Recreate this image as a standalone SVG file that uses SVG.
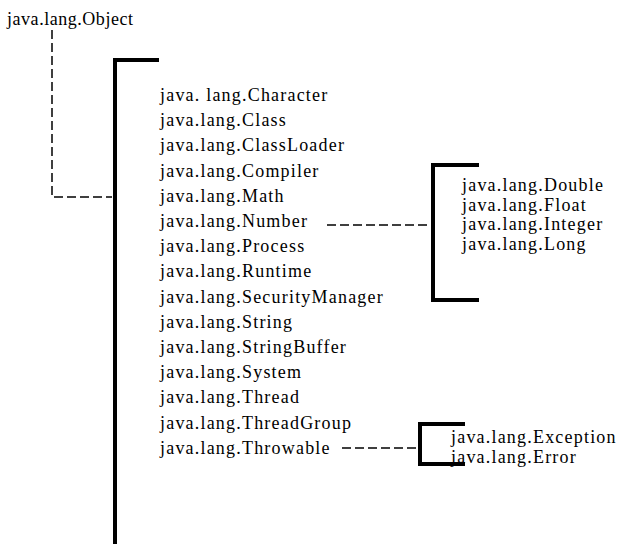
<svg xmlns="http://www.w3.org/2000/svg" width="622" height="544" viewBox="0 0 622 544">
<style>
text{font-family:"Liberation Serif","Times New Roman",serif;font-size:18px;fill:#000;letter-spacing:1.2px}
.br{fill:none;stroke:#000;stroke-width:4;stroke-linejoin:miter;stroke-linecap:square}
.dash{fill:none;stroke:#000;stroke-width:1.5;stroke-dasharray:9 4}
</style>
<rect width="622" height="544" fill="#fff"/>
<g id="connectors">
<path class="dash" d="M52,30 V197 H112"/>
<path class="dash" d="M327,225 H431"/>
<path class="dash" d="M342,448 H418"/>
</g>
<g id="object">
<text x="7" y="25" textLength="126" lengthAdjust="spacing" style="letter-spacing:0">java.lang.Object</text>
</g>
<g id="lang-classes">
<path class="br" d="M157,60 H115 V546"/>
<text x="160" y="101">java. lang.Character</text>
<text x="160" y="126.2">java.lang.Class</text>
<text x="160" y="151.4">java.lang.ClassLoader</text>
<text x="160" y="176.6">java.lang.Compiler</text>
<text x="160" y="201.8">java.lang.Math</text>
<text x="160" y="227">java.lang.Number</text>
<text x="160" y="252.2">java.lang.Process</text>
<text x="160" y="277.4">java.lang.Runtime</text>
<text x="160" y="302.6">java.lang.SecurityManager</text>
<text x="160" y="327.8">java.lang.String</text>
<text x="160" y="353">java.lang.StringBuffer</text>
<text x="160" y="378.2">java.lang.System</text>
<text x="160" y="403.4">java.lang.Thread</text>
<text x="160" y="428.6">java.lang.ThreadGroup</text>
<text x="160" y="453.8">java.lang.Throwable</text>
</g>
<g id="number-subclasses">
<path class="br" d="M477,165 H433 V300 H477"/>
<text x="462" y="191">java.lang.Double</text>
<text x="462" y="210.5">java.lang.Float</text>
<text x="462" y="230">java.lang.Integer</text>
<text x="462" y="249.5">java.lang.Long</text>
</g>
<g id="throwable-subclasses">
<path class="br" d="M463,424 H420 V464 H463"/>
<text x="451" y="443">java.lang.Exception</text>
<text x="451" y="463">java.lang.Error</text>
</g>
</svg>
